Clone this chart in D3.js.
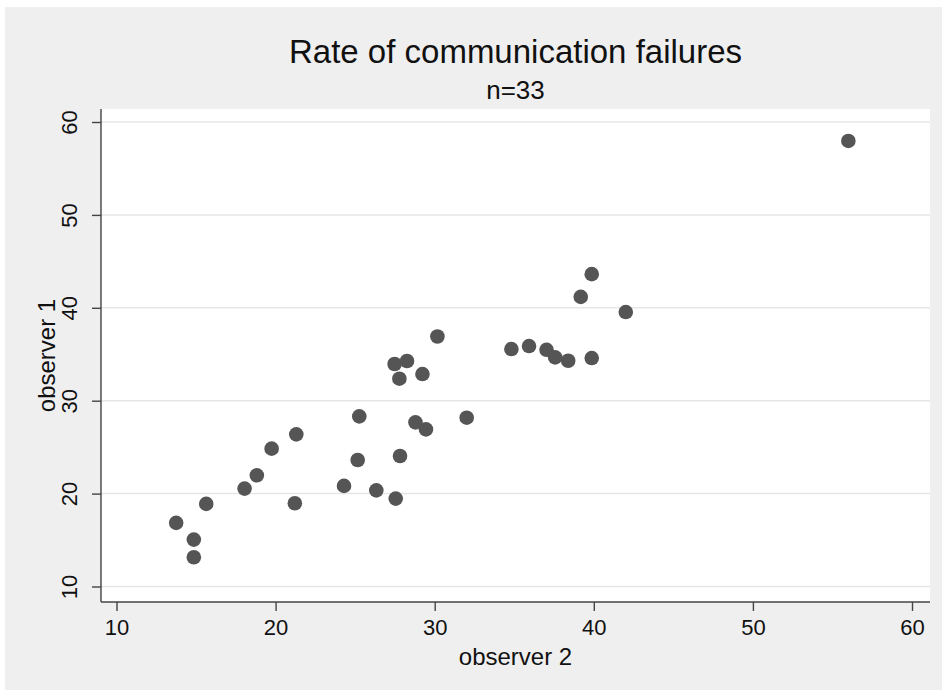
<!DOCTYPE html>
<html>
<head>
<meta charset="utf-8">
<script src="https://cdn.jsdelivr.net/npm/d3@7"></script>
<style>
  html, body { margin: 0; padding: 0; background: #ffffff; }
  svg { display: block; }
  text { font-family: "Liberation Sans", Arial, Helvetica, sans-serif; fill: #111; }
</style>
</head>
<body>
<script>
// ---- data ----
const title = "Rate of communication failures";
const subtitle = "n=33";
const xLabel = "observer 2";
const yLabel = "observer 1";
const xTicks = [10, 20, 30, 40, 50, 60];
const yTicks = [10, 20, 30, 40, 50, 60];
const observer2 = [13.75, 14.86, 14.86, 15.64, 18.05, 18.82, 19.75, 21.30, 21.21, 24.30,
                   25.16, 25.26, 26.33, 27.55, 27.82, 28.79, 29.45, 32.01, 30.17, 27.48,
                   28.26, 27.78, 29.23, 39.87, 39.18, 42.01, 34.82, 35.93, 37.03, 37.57,
                   38.39, 39.87, 56.0];
const observer1 = [16.85, 15.05, 13.15, 18.89, 20.54, 21.97, 24.84, 26.38, 18.96, 20.83,
                   23.62, 28.31, 20.35, 19.46, 24.05, 27.67, 26.91, 28.17, 36.91, 33.95,
                   34.27, 32.37, 32.87, 43.62, 41.18, 39.54, 35.56, 35.88, 35.48, 34.66,
                   34.30, 34.59, 57.96];

// ---- layout ----
const W = 942, H = 690;
const plot = { left: 101, right: 930, top: 109, bottom: 602 };

const svg = d3.select("body").append("svg").attr("width", W).attr("height", H);

// outer background
svg.append("rect").attr("x", 5).attr("y", 7).attr("width", W - 5).attr("height", H - 7).attr("fill", "#efefef");

// plot region
svg.append("rect")
  .attr("x", plot.left).attr("y", plot.top)
  .attr("width", plot.right - plot.left).attr("height", plot.bottom - plot.top)
  .attr("fill", "#ffffff");

const x = d3.scaleLinear().domain([10, 60]).range([116.5, 912]);
const y = d3.scaleLinear().domain([10, 60]).range([586.5, 122]);

// gridlines
svg.append("g").selectAll("line").data(yTicks).join("line")
  .attr("x1", plot.left).attr("x2", plot.right)
  .attr("y1", d => y(d)).attr("y2", d => y(d))
  .attr("stroke", "#e6e6e6").attr("stroke-width", 1.5);

// y axis
const yAxis = svg.append("g").attr("transform", `translate(${plot.left},0)`)
  .call(d3.axisLeft(y).tickValues(yTicks).tickSize(9).tickFormat(d3.format("d")));
yAxis.select(".domain").attr("d", `M0,${plot.top}V${plot.bottom}`);
yAxis.selectAll("path, line").attr("stroke", "#444").attr("stroke-width", 1.4);
yAxis.selectAll(".tick text")
  .attr("font-size", 22).attr("fill", "#111")
  .attr("y", 0).attr("x", 0).attr("dy", "0.35em")
  .attr("transform", "translate(-32,0) rotate(-90)")
  .attr("text-anchor", "middle");

// x axis
const xAxis = svg.append("g").attr("transform", `translate(0,${plot.bottom})`)
  .call(d3.axisBottom(x).tickValues(xTicks).tickSize(9).tickPadding(8).tickFormat(d3.format("d")));
xAxis.select(".domain").attr("d", `M${plot.left},0H${plot.right}`);
xAxis.selectAll("path, line").attr("stroke", "#444").attr("stroke-width", 1.4);
xAxis.selectAll("text").attr("font-size", 22).attr("fill", "#111");

// points
svg.append("g").selectAll("circle").data(observer2).join("circle")
  .attr("cx", d => x(d))
  .attr("cy", (d, i) => y(observer1[i]))
  .attr("r", 7.3)
  .attr("fill", "#555555");

// title
const cx = (plot.left + plot.right) / 2;
svg.append("text").attr("x", cx).attr("y", 63).attr("text-anchor", "middle")
  .attr("font-size", 33).text(title);
svg.append("text").attr("x", cx).attr("y", 99).attr("text-anchor", "middle")
  .attr("font-size", 26).text(subtitle);

// axis labels
svg.append("text").attr("x", cx).attr("y", 665).attr("text-anchor", "middle")
  .attr("font-size", 24).text(xLabel);
svg.append("text").attr("transform", `translate(55,${(plot.top + plot.bottom) / 2}) rotate(-90)`)
  .attr("text-anchor", "middle").attr("font-size", 24).text(yLabel);
</script>
</body>
</html>
